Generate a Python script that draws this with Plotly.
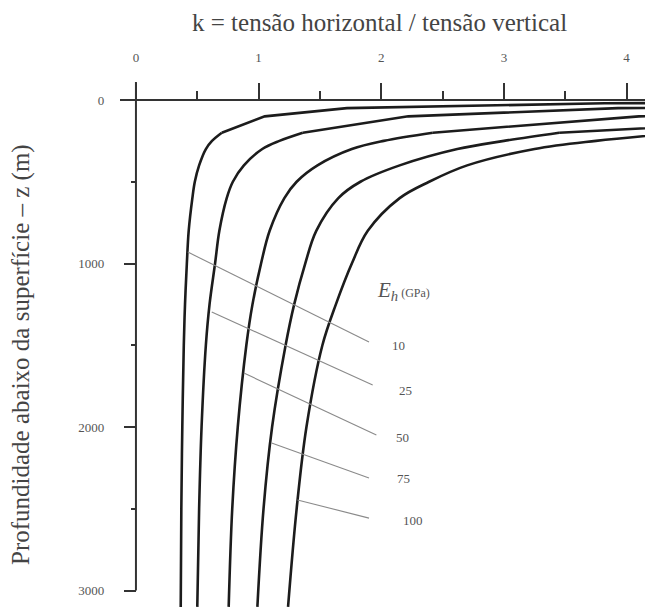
import plotly.graph_objects as go

# Depth below surface z (m) at which each curve is sampled
DEPTH = [10, 20, 50, 100, 200, 250, 300, 400, 500, 600, 800, 1000, 1250, 1500, 2000, 2500, 3100]

# k = horizontal / vertical stress for each modulus Eh (GPa)
K_E10 = [7.3, 3.82, 1.72, 1.05, 0.70, 0.62, 0.57, 0.515, 0.48, 0.46, 0.43, 0.415, 0.40, 0.39, 0.378, 0.37, 0.365]
K_E25 = [17.9, 9.2, 3.93, 2.22, 1.36, 1.17, 1.03, 0.88, 0.79, 0.74, 0.68, 0.645, 0.60, 0.57, 0.535, 0.515, 0.50]
K_E50 = [35.6, 18.1, 7.6, 4.1, 2.42, 2.02, 1.76, 1.48, 1.31, 1.21, 1.09, 1.02, 0.95, 0.90, 0.83, 0.785, 0.756]
K_E75 = [53.0, 27.0, 11.3, 6.0, 3.45, 3.0, 2.62, 2.15, 1.83, 1.65, 1.47, 1.38, 1.29, 1.22, 1.11, 1.04, 0.99]
K_E100 = [71.0, 36.0, 15.0, 7.95, 4.45, 3.75, 3.25, 2.70, 2.39, 2.15, 1.89, 1.76, 1.63, 1.52, 1.39, 1.31, 1.24]

SERIES = [K_E10, K_E25, K_E50, K_E75, K_E100]
EH_LABELS = ["10", "25", "50", "75", "100"]

# Leader lines: start on each curve, end next to its label
LEADER_K0 = [0.423, 0.618, 0.88, 1.106, 1.317]
LEADER_Z0 = [930, 1297, 1670, 2098, 2446]
LEADER_K1 = [1.90, 1.93, 1.96, 1.90, 1.90]
LEADER_Z1 = [1480, 1743, 2049, 2312, 2557]
LABEL_K = [2.07, 2.13, 2.10, 2.11, 2.16]
LABEL_Z = [1500, 1774, 2061, 2312, 2569]

X_TICKS = [0, 1, 2, 3, 4]
X_MINOR = [0.5, 1.5, 2.5, 3.5]
Y_TICKS = [0, 1000, 2000, 3000]
Y_MINOR = [500, 1500, 2500]

X_RANGE = [-0.13, 4.15]
Y_RANGE = [3119, -110]

SERIF = "Liberation Serif"
AXIS_COLOR = "#333333"

# Shallow part drawn as straight segments, deeper part smoothed
SPLIT = DEPTH.index(200)

fig = go.Figure()

for kvals in SERIES:
    fig.add_trace(go.Scatter(
        x=kvals[:SPLIT + 1], y=DEPTH[:SPLIT + 1], mode="lines",
        line=dict(color="#1c1c1c", width=2.6),
        hoverinfo="skip", showlegend=False,
    ))
    fig.add_trace(go.Scatter(
        x=kvals[SPLIT:], y=DEPTH[SPLIT:], mode="lines",
        line=dict(color="#1c1c1c", width=2.6, shape="spline", smoothing=1.0),
        hoverinfo="skip", showlegend=False,
    ))

for k0, z0, k1, z1 in zip(LEADER_K0, LEADER_Z0, LEADER_K1, LEADER_Z1):
    fig.add_trace(go.Scatter(
        x=[k0, k1], y=[z0, z1], mode="lines",
        line=dict(color="#8a8a8a", width=1.1),
        hoverinfo="skip", showlegend=False,
    ))

for txt, kx, zy in zip(EH_LABELS, LABEL_K, LABEL_Z):
    fig.add_annotation(
        x=kx, y=zy, xref="x", yref="y", text=txt, showarrow=False,
        xanchor="left", yanchor="middle",
        font=dict(family=SERIF, size=13, color="#555555"),
    )

fig.add_annotation(
    x=1.95, y=1170, xref="x", yref="y",
    text="<i>E</i><sub><i>h</i></sub><span style='font-size:12px'> (GPa)</span>",
    showarrow=False, xanchor="left", yanchor="middle",
    font=dict(family=SERIF, size=21, color="#555555"),
)

# Vertical axis line: from just above the origin down to 3000 m
fig.add_shape(type="line", xref="x", yref="y", x0=0, x1=0, y0=Y_RANGE[1], y1=3000,
              line=dict(color=AXIS_COLOR, width=2))

pos_x0 = (0 - X_RANGE[0]) / (X_RANGE[1] - X_RANGE[0])
pos_y0 = (Y_RANGE[0] - 0) / (Y_RANGE[0] - Y_RANGE[1])

fig.update_layout(
    width=645, height=610,
    margin=dict(l=120, r=0, t=82, b=0),
    paper_bgcolor="white", plot_bgcolor="white",
    xaxis=dict(
        range=X_RANGE, side="top", anchor="free", position=pos_y0,
        showgrid=False, zeroline=False,
        showline=True, linecolor=AXIS_COLOR, linewidth=2,
        ticks="outside", ticklen=16, tickwidth=2, tickcolor=AXIS_COLOR,
        tickmode="array", tickvals=X_TICKS, ticktext=[str(v) for v in X_TICKS],
        ticklabelstandoff=16,
        minor=dict(tickmode="array", tickvals=X_MINOR, ticks="outside",
                   ticklen=8, tickwidth=2, tickcolor=AXIS_COLOR, showgrid=False),
        tickfont=dict(family=SERIF, size=13, color="#555555"),
    ),
    yaxis=dict(
        range=Y_RANGE, anchor="free", position=pos_x0,
        showgrid=False, zeroline=False, showline=False,
        ticks="outside", ticklen=12, tickwidth=2, tickcolor=AXIS_COLOR,
        tickmode="array", tickvals=Y_TICKS, ticktext=[str(v) for v in Y_TICKS],
        ticklabelstandoff=17,
        minor=dict(tickmode="array", tickvals=Y_MINOR, ticks="outside",
                   ticklen=5, tickwidth=2, tickcolor=AXIS_COLOR, showgrid=False),
        tickfont=dict(family=SERIF, size=13, color="#555555"),
    ),
)

# Axis titles
fig.add_annotation(
    x=(379 - 120) / 525, y=(610 - 23) / 528, xref="paper", yref="paper",
    text="k = tensão horizontal / tensão vertical", showarrow=False,
    xanchor="center", yanchor="middle",
    font=dict(family=SERIF, size=25, color="#444444"),
)
fig.add_annotation(
    x=(21 - 120) / 525, y=(610 - 355) / 528, xref="paper", yref="paper",
    text="Profundidade abaixo da superfície – z (m)", showarrow=False,
    textangle=-90, xanchor="center", yanchor="middle",
    font=dict(family=SERIF, size=25, color="#444444"),
)

fig.write_html("out.html")
